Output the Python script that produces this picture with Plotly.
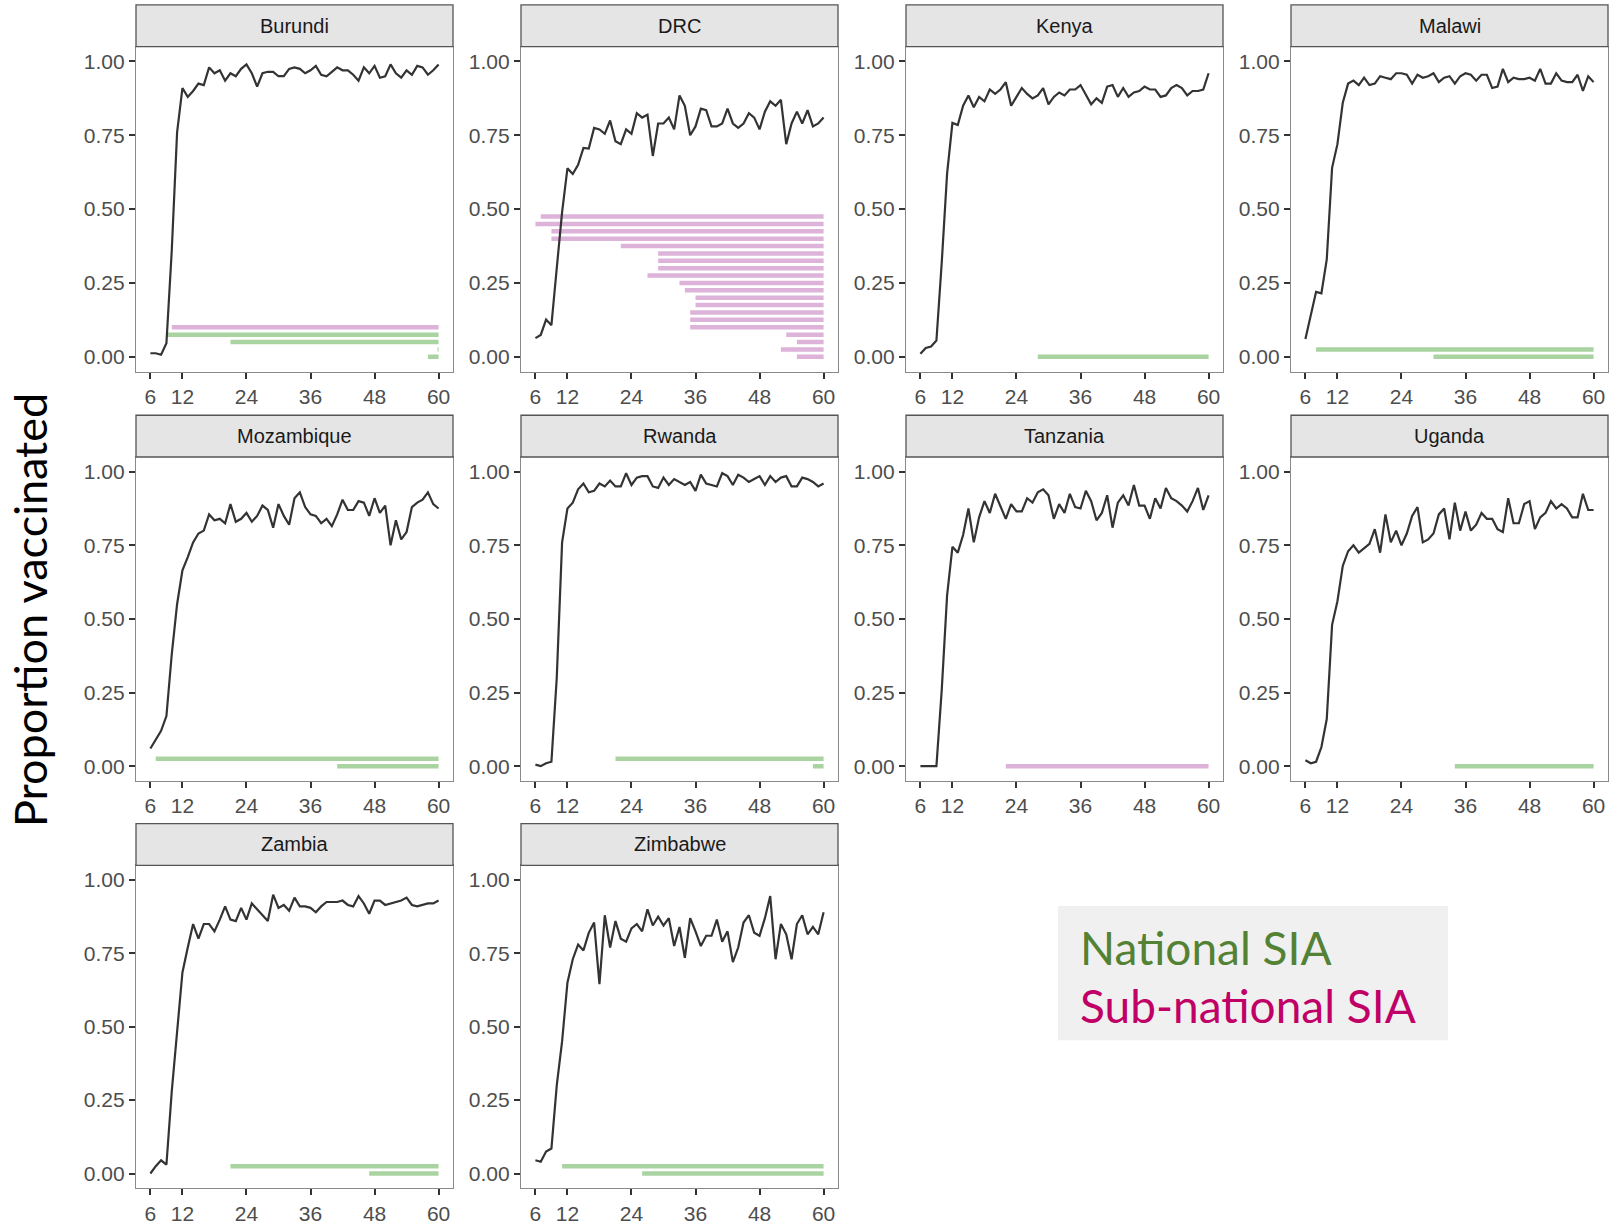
import plotly.graph_objects as go

# ---------------- data ----------------
months = list(range(6, 61))
countries = ["Burundi", "DRC", "Kenya", "Malawi", "Mozambique",
             "Rwanda", "Tanzania", "Uganda", "Zambia", "Zimbabwe"]

burundi = [0.012, 0.012, 0.007, 0.046, 0.36, 0.76, 0.91, 0.88, 0.90, 0.925,
           0.92, 0.98, 0.96, 0.97, 0.935, 0.96, 0.95, 0.975, 0.99, 0.96,
           0.915, 0.96, 0.965, 0.965, 0.95, 0.95, 0.975, 0.98, 0.975, 0.96,
           0.97, 0.985, 0.955, 0.95, 0.965, 0.98, 0.97, 0.97, 0.955, 0.935,
           0.98, 0.96, 0.985, 0.945, 0.95, 0.99, 0.96, 0.945, 0.97, 0.955,
           0.985, 0.98, 0.955, 0.97, 0.99]
drc = [0.063, 0.074, 0.126, 0.107, 0.30, 0.49, 0.638, 0.619, 0.65, 0.707,
       0.705, 0.775, 0.77, 0.755, 0.80, 0.73, 0.72, 0.77, 0.755, 0.825,
       0.81, 0.82, 0.68, 0.79, 0.79, 0.81, 0.77, 0.885, 0.85, 0.75,
       0.78, 0.84, 0.835, 0.78, 0.78, 0.79, 0.84, 0.79, 0.775, 0.79,
       0.825, 0.81, 0.77, 0.83, 0.865, 0.85, 0.87, 0.72, 0.79, 0.83,
       0.79, 0.835, 0.78, 0.79, 0.81]
kenya = [0.01, 0.03, 0.035, 0.055, 0.32, 0.62, 0.792, 0.785, 0.85, 0.885,
         0.845, 0.88, 0.865, 0.905, 0.89, 0.905, 0.93, 0.85, 0.88, 0.91,
         0.89, 0.875, 0.885, 0.91, 0.855, 0.88, 0.895, 0.885, 0.905, 0.905,
         0.92, 0.885, 0.855, 0.875, 0.86, 0.915, 0.92, 0.88, 0.91, 0.88,
         0.895, 0.90, 0.915, 0.905, 0.905, 0.88, 0.885, 0.91, 0.92, 0.91,
         0.885, 0.90, 0.90, 0.905, 0.96]
malawi = [0.06, 0.14, 0.22, 0.215, 0.33, 0.64, 0.72, 0.86, 0.925, 0.935,
          0.92, 0.945, 0.92, 0.925, 0.95, 0.945, 0.94, 0.96, 0.96, 0.955,
          0.925, 0.955, 0.945, 0.95, 0.96, 0.93, 0.945, 0.95, 0.925, 0.95,
          0.96, 0.955, 0.935, 0.955, 0.955, 0.91, 0.915, 0.975, 0.93, 0.945,
          0.94, 0.94, 0.945, 0.935, 0.975, 0.925, 0.925, 0.96, 0.935, 0.93,
          0.93, 0.955, 0.90, 0.95, 0.93]
mozambique = [0.06, 0.09, 0.12, 0.17, 0.38, 0.55, 0.665, 0.71, 0.76, 0.79,
              0.80, 0.855, 0.835, 0.84, 0.825, 0.89, 0.83, 0.84, 0.86, 0.83,
              0.85, 0.885, 0.87, 0.81, 0.89, 0.85, 0.82, 0.91, 0.93, 0.88,
              0.855, 0.85, 0.825, 0.84, 0.815, 0.855, 0.905, 0.87, 0.87, 0.90,
              0.895, 0.85, 0.91, 0.86, 0.885, 0.75, 0.835, 0.77, 0.795, 0.88,
              0.895, 0.905, 0.93, 0.89, 0.875]
rwanda = [0.005, 0.0, 0.01, 0.015, 0.30, 0.76, 0.875, 0.895, 0.94, 0.96,
          0.93, 0.935, 0.96, 0.95, 0.97, 0.95, 0.95, 0.995, 0.955, 0.98,
          0.985, 0.985, 0.95, 0.945, 0.98, 0.955, 0.975, 0.965, 0.955, 0.965,
          0.935, 0.99, 0.96, 0.955, 0.95, 0.995, 0.985, 0.955, 0.99, 0.98,
          0.965, 0.975, 0.985, 0.955, 0.985, 0.965, 0.98, 0.985, 0.95, 0.95,
          0.98, 0.975, 0.965, 0.95, 0.96]
tanzania = [0.0, 0.0, 0.0, 0.0, 0.26, 0.58, 0.745, 0.725, 0.785, 0.875,
            0.76, 0.845, 0.90, 0.86, 0.925, 0.885, 0.84, 0.89, 0.865, 0.865,
            0.91, 0.895, 0.93, 0.94, 0.92, 0.84, 0.89, 0.86, 0.925, 0.88,
            0.875, 0.935, 0.90, 0.835, 0.86, 0.92, 0.81, 0.895, 0.92, 0.885,
            0.955, 0.885, 0.885, 0.84, 0.91, 0.875, 0.945, 0.91, 0.90, 0.885,
            0.865, 0.90, 0.945, 0.87, 0.92]
uganda = [0.02, 0.01, 0.015, 0.065, 0.16, 0.48, 0.56, 0.68, 0.73, 0.75,
          0.725, 0.74, 0.755, 0.805, 0.725, 0.855, 0.76, 0.80, 0.75, 0.79,
          0.85, 0.88, 0.76, 0.77, 0.79, 0.855, 0.875, 0.77, 0.895, 0.80,
          0.865, 0.80, 0.82, 0.86, 0.84, 0.84, 0.805, 0.795, 0.91, 0.825,
          0.825, 0.89, 0.90, 0.805, 0.845, 0.86, 0.90, 0.875, 0.89, 0.875,
          0.845, 0.845, 0.925, 0.87, 0.87]
zambia = [0.0, 0.025, 0.045, 0.03, 0.28, 0.48, 0.685, 0.77, 0.85, 0.80,
          0.85, 0.85, 0.825, 0.865, 0.91, 0.865, 0.86, 0.905, 0.865, 0.92,
          0.90, 0.88, 0.86, 0.95, 0.905, 0.915, 0.895, 0.94, 0.91, 0.91,
          0.905, 0.89, 0.91, 0.925, 0.925, 0.925, 0.93, 0.915, 0.91, 0.945,
          0.92, 0.885, 0.93, 0.93, 0.915, 0.92, 0.925, 0.93, 0.94, 0.915,
          0.91, 0.915, 0.92, 0.92, 0.93]
zimbabwe = [0.045, 0.04, 0.075, 0.085, 0.30, 0.45, 0.65, 0.73, 0.78, 0.76,
            0.82, 0.855, 0.645, 0.88, 0.77, 0.86, 0.80, 0.79, 0.835, 0.85,
            0.825, 0.90, 0.845, 0.875, 0.845, 0.87, 0.775, 0.84, 0.735, 0.87,
            0.825, 0.775, 0.81, 0.81, 0.865, 0.79, 0.825, 0.72, 0.77, 0.855,
            0.88, 0.82, 0.81, 0.87, 0.945, 0.73, 0.85, 0.815, 0.73, 0.85,
            0.88, 0.815, 0.84, 0.815, 0.89]

# SIA campaigns: start age (months) and type, listed bottom-to-top; all run to sia_end
sia_end = 60
burundi_sia_start = [58, 59.8, 21, 9, 10]
burundi_sia_type = ["National", "National", "National", "National", "Sub-national"]
drc_sia_start = [55, 52, 55, 53, 35, 35, 35, 36, 36, 34, 33, 27, 29, 29, 29, 22, 9, 9, 6, 7]
drc_sia_type = ["Sub-national"] * 20
kenya_sia_start = [28]
kenya_sia_type = ["National"]
malawi_sia_start = [30, 8]
malawi_sia_type = ["National", "National"]
mozambique_sia_start = [41, 7]
mozambique_sia_type = ["National", "National"]
rwanda_sia_start = [58, 21]
rwanda_sia_type = ["National", "National"]
tanzania_sia_start = [22]
tanzania_sia_type = ["Sub-national"]
uganda_sia_start = [34]
uganda_sia_type = ["National"]
zambia_sia_start = [47, 21]
zambia_sia_type = ["National", "National"]
zimbabwe_sia_start = [26, 11]
zimbabwe_sia_type = ["National", "National"]
sia_step = 0.025

x_ticks = [6, 12, 24, 36, 48, 60]
y_ticks = [0, 0.25, 0.5, 0.75, 1.0]
y_ticklabels = ["0.00", "0.25", "0.50", "0.75", "1.00"]

coverage = [burundi, drc, kenya, malawi, mozambique, rwanda, tanzania, uganda, zambia, zimbabwe]
sia_starts = [burundi_sia_start, drc_sia_start, kenya_sia_start, malawi_sia_start,
              mozambique_sia_start, rwanda_sia_start, tanzania_sia_start,
              uganda_sia_start, zambia_sia_start, zimbabwe_sia_start]
sia_types = [burundi_sia_type, drc_sia_type, kenya_sia_type, malawi_sia_type,
             mozambique_sia_type, rwanda_sia_type, tanzania_sia_type,
             uganda_sia_type, zambia_sia_type, zimbabwe_sia_type]

# ---------------- layout geometry ----------------
W, H = 1614, 1225
col_left = [136, 521, 906, 1291]
panel_w = 317
row_strip_top = [5, 418, 829]
row_plot_top = [47, 460, 871]
row_plot_bot = [374, 786, 1196]

NAT_COL = "#A9D4A1"
SUB_COL = "#DDB3D9"
LINE_COL = "#333333"
TICK_FONT = dict(family="Liberation Sans, Arial, sans-serif", size=21, color="#4D4D4D")

fig = go.Figure()
shapes = []
annotations = []

for k, name in enumerate(countries):
    r, c = divmod(k, 4)
    ax = "" if k == 0 else str(k + 1)
    xref, yref = "x" + ax, "y" + ax
    L = col_left[c]
    xd = [L / W, (L + panel_w) / W]
    yd = [1 - row_plot_bot[r] / H, 1 - row_plot_top[r] / H]

    # SIA segments
    for kind, col in (("National", NAT_COL), ("Sub-national", SUB_COL)):
        xs, ys = [], []
        for i, (s, t) in enumerate(zip(sia_starts[k], sia_types[k])):
            if t == kind:
                xs += [s, sia_end, None]
                ys += [i * sia_step, i * sia_step, None]
        if xs:
            fig.add_trace(go.Scatter(x=xs, y=ys, mode="lines", xaxis=xref, yaxis=yref,
                                     line=dict(color=col, width=4.5), showlegend=False,
                                     hoverinfo="skip"))
    # coverage line
    fig.add_trace(go.Scatter(x=months, y=coverage[k], mode="lines", xaxis=xref, yaxis=yref,
                             line=dict(color=LINE_COL, width=2.2), showlegend=False))

    axis_common = dict(showgrid=False, zeroline=False, showline=True, mirror=True,
                       linecolor="#8A8A8A", linewidth=1.3, ticks="outside", ticklen=6,
                       tickwidth=1.5, tickcolor="#333333", tickfont=TICK_FONT)
    fig.layout["xaxis" + ax] = dict(domain=xd, anchor=yref, range=[3.3, 62.7],
                                     tickvals=x_ticks, **axis_common)
    fig.layout["yaxis" + ax] = dict(domain=yd, anchor=xref, range=[-0.05, 1.05],
                                     tickvals=y_ticks, ticktext=y_ticklabels, **axis_common)

    # strip
    shapes.append(dict(type="rect", xref="paper", yref="paper",
                       x0=L / W, x1=(L + panel_w) / W,
                       y0=1 - row_plot_top[r] / H, y1=1 - row_strip_top[r] / H,
                       fillcolor="#E5E5E5", line=dict(color="#555555", width=1.3)))
    annotations.append(dict(xref="paper", yref="paper", x=(L + panel_w / 2) / W,
                            y=1 - (row_strip_top[r] + row_plot_top[r]) / 2 / H,
                            text=name, showarrow=False, xanchor="center", yanchor="middle",
                            font=dict(family="Liberation Sans, Arial, sans-serif", size=20,
                                      color="#1A1A1A")))

# y-axis title
annotations.append(dict(xref="paper", yref="paper", x=30 / W, y=1 - 614 / H,
                        text="Proportion vaccinated", textangle=-90, showarrow=False,
                        xanchor="center", yanchor="middle",
                        font=dict(family="Lato, sans-serif", size=45, color="#000000")))

# legend box
shapes.append(dict(type="rect", xref="paper", yref="paper", x0=1058 / W, x1=1448 / W,
                   y0=1 - 1047 / H, y1=1 - 912 / H, fillcolor="#F0F0F0",
                   line=dict(width=0), layer="below"))
annotations.append(dict(xref="paper", yref="paper", x=1078 / W, y=1 - 954 / H,
                        text="National SIA", showarrow=False, xanchor="left", yanchor="middle",
                        font=dict(family="Lato, sans-serif", size=46, color="#548235")))
annotations.append(dict(xref="paper", yref="paper", x=1078 / W, y=1 - 1012 / H,
                        text="Sub-national SIA", showarrow=False, xanchor="left", yanchor="middle",
                        font=dict(family="Lato, sans-serif", size=46, color="#C00066")))

fig.update_layout(width=W, height=H, margin=dict(l=0, r=0, t=0, b=0),
                  paper_bgcolor="white", plot_bgcolor="white",
                  shapes=shapes, annotations=annotations, showlegend=False)

fig.write_html("out.html", config={"displayModeBar": False},
               post_script="document.body.style.margin='0';"
                           "document.body.style.overflow='hidden';"
                           "document.documentElement.style.overflow='hidden';")
